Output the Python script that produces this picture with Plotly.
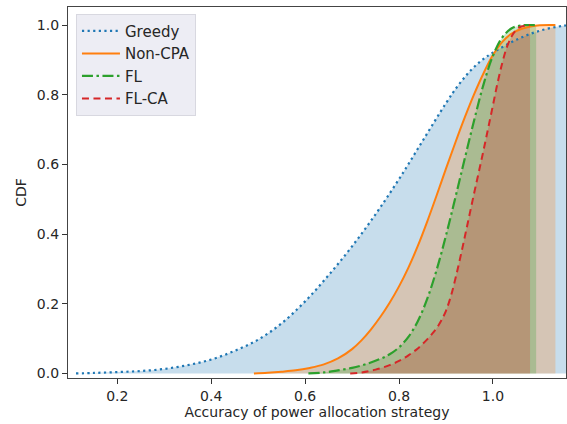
import plotly.graph_objects as go

# ---- data ----
greedy_x = [0.112, 0.15, 0.20, 0.25, 0.30, 0.35, 0.40, 0.45, 0.50, 0.55, 0.60, 0.65, 0.70,
            0.75, 0.80, 0.85, 0.90, 0.925, 0.95, 0.975, 1.00, 1.05, 1.10, 1.15, 1.17]
greedy_y = [0.0, 0.0015, 0.004, 0.007, 0.013, 0.024, 0.040, 0.065, 0.097, 0.144, 0.207, 0.282,
            0.365, 0.457, 0.558, 0.667, 0.776, 0.825, 0.866, 0.898, 0.921, 0.958, 0.984, 0.998, 1.0]

noncpa_x = [0.491, 0.52, 0.55, 0.58, 0.61, 0.64, 0.67, 0.70, 0.72, 0.74, 0.76, 0.78, 0.80,
            0.82, 0.84, 0.86, 0.88, 0.90, 0.92, 0.94, 0.96, 0.98, 1.00, 1.02, 1.04, 1.06,
            1.08, 1.10, 1.133]
noncpa_y = [0.0, 0.002, 0.005, 0.009, 0.016, 0.026, 0.043, 0.070, 0.095, 0.126, 0.162, 0.203,
            0.250, 0.304, 0.366, 0.436, 0.511, 0.588, 0.663, 0.735, 0.802, 0.862, 0.914, 0.952,
            0.976, 0.989, 0.996, 0.9995, 1.0]

fl_x = [0.607, 0.64, 0.67, 0.70, 0.73, 0.76, 0.78, 0.80, 0.82, 0.84, 0.86, 0.88, 0.90,
        0.92, 0.94, 0.96, 0.98, 1.00, 1.02, 1.04, 1.06, 1.092]
fl_y = [0.0, 0.003, 0.009, 0.016, 0.027, 0.042, 0.055, 0.075, 0.105, 0.150, 0.214, 0.297,
        0.396, 0.505, 0.617, 0.727, 0.830, 0.912, 0.965, 0.991, 0.999, 1.0]

flca_x = [0.696, 0.72, 0.75, 0.78, 0.80, 0.82, 0.84, 0.86, 0.87, 0.88, 0.89, 0.90, 0.91,
          0.92, 0.93, 0.94, 0.95, 0.96, 0.97, 0.98, 0.99, 1.00, 1.01, 1.02, 1.03, 1.04,
          1.05, 1.06, 1.079]
flca_y = [0.0, 0.003, 0.011, 0.024, 0.036, 0.052, 0.072, 0.098, 0.113, 0.130, 0.152, 0.180,
          0.220, 0.272, 0.330, 0.392, 0.455, 0.518, 0.579, 0.641, 0.705, 0.770, 0.835, 0.892,
          0.938, 0.968, 0.987, 0.996, 1.0]

series = [
    ("Greedy", greedy_x, greedy_y, (31, 119, 180), "2.2px,3.4px", 2.2),
    ("Non-CPA", noncpa_x, noncpa_y, (255, 127, 14), "solid", 2.0),
    ("FL", fl_x, fl_y, (44, 160, 44), "11px,3.5px,2.5px,3.5px", 2.2),
    ("FL-CA", flca_x, flca_y, (214, 39, 40), "7px,4.5px", 2.0),
]

x_ticks = [0.2, 0.4, 0.6, 0.8, 1.0]
y_ticks = [0.0, 0.2, 0.4, 0.6, 0.8, 1.0]

fig = go.Figure()

for name, xs, ys, c, dash, w in series:
    fig.add_trace(go.Scatter(
        x=xs, y=ys, mode="lines", fill="tozeroy",
        fillcolor="rgba(%d,%d,%d,0.25)" % c,
        line=dict(width=0, shape="spline", smoothing=1.0),
        showlegend=False, hoverinfo="skip"))

for name, xs, ys, c, dash, w in series:
    fig.add_trace(go.Scatter(
        x=xs, y=ys, mode="lines", name=name, legendgroup=name,
        line=dict(color="rgb(%d,%d,%d)" % c, width=w, dash=dash,
                  shape="spline", smoothing=1.0)))

axis_common = dict(
    showline=True, mirror=True, linecolor="#444", linewidth=1.2,
    showgrid=False, zeroline=False, ticks="outside", ticklen=5, tickwidth=1.2,
    tickcolor="#333", tickformat=".1f",
    tickfont=dict(family="DejaVu Sans", size=14, color="#262626"),
)

fig.update_layout(
    width=567, height=424,
    margin=dict(l=68, r=1, t=7, b=46),
    paper_bgcolor="white", plot_bgcolor="white",
    font=dict(family="DejaVu Sans", color="#262626"),
    xaxis=dict(range=[0.095, 1.1556], tickvals=x_ticks,
               title=dict(text="Accuracy of power allocation strategy",
                          font=dict(size=14, color="#262626"), standoff=4),
               **axis_common),
    yaxis=dict(range=[-0.013, 1.052], tickvals=y_ticks,
               title=dict(text="CDF", font=dict(size=14, color="#262626"), standoff=6),
               **axis_common),
    legend=dict(x=0.016, y=0.982, xanchor="left", yanchor="top",
                bgcolor="rgba(234,234,242,0.85)", bordercolor="#d8d8e0", borderwidth=1,
                font=dict(family="DejaVu Sans", size=15, color="#262626"),
                traceorder="grouped", tracegroupgap=0, itemwidth=38),
)

fig.write_html("out.html")
